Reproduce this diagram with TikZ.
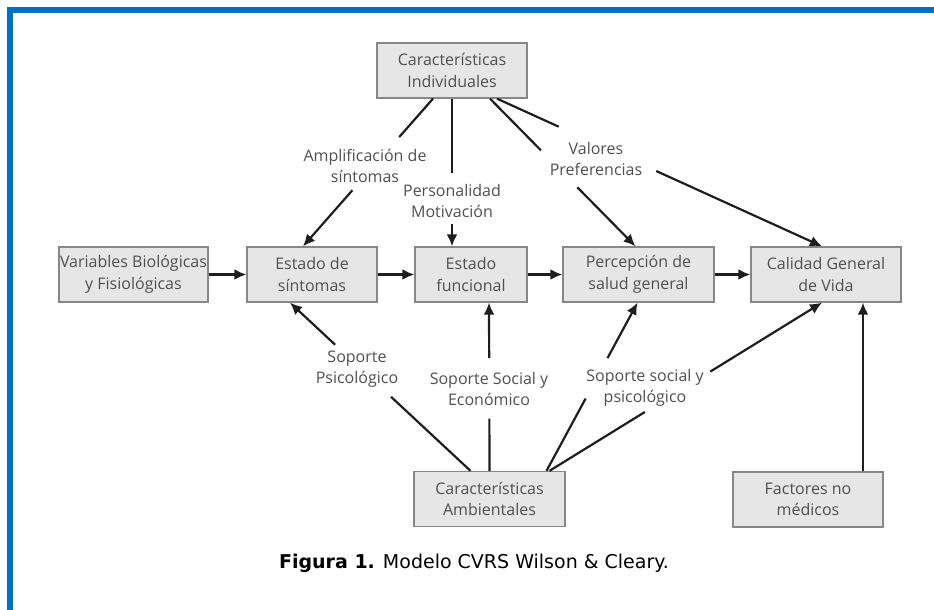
\documentclass[tikz,border=0pt]{standalone}
\usepackage{fontspec}
\setmainfont{Open Sans}
\newfontfamily\captionfont{DejaVu Sans}
\usetikzlibrary{arrows.meta,calc}

\definecolor{marco}{RGB}{0,112,192}
\definecolor{cajagris}{RGB}{230,230,230}
\definecolor{bordegris}{RGB}{135,135,135}
\definecolor{textogris}{RGB}{80,80,80}
\definecolor{linea}{RGB}{30,30,30}

\tikzset{
	box/.style={draw=bordegris, line width=1.3pt, fill=cajagris, text=textogris, align=center,
		minimum height=55pt, inner sep=0pt, font=\fontsize{16}{21.5}\selectfont},
	lbl/.style={text=textogris, align=center, inner sep=0pt, font=\fontsize{16}{21.5}\selectfont},
	conn/.style={line width=2.2pt, draw=linea},
	arr/.style={conn, -{Latex[length=12pt,width=11pt]}}
}

\begin{document}
\begin{tikzpicture}[x=1pt, y=-1pt]
		
		\useasboundingbox (0, 0) rectangle (934, 610);
		\fill [marco] (7, 7) rectangle (934, 13);
		\fill [marco] (7, 7) rectangle (13, 610);
		
		% cajas
		\node [box, minimum width=150pt] (indiv) at (452, 70.5) {Características\\Individuales};
		\node [box, minimum width=149pt] (vars) at (133.5, 274.5) {Variables Biológicas\\y Fisiológicas};
		\node [box, minimum width=130pt] (sint) at (312, 274.5) {Estado de\\síntomas};
		\node [box, minimum width=112pt] (func) at (471, 274.5) {Estado\\funcional};
		\node [box, minimum width=151pt] (perc) at (638.5, 274.5) {Percepción de\\salud general};
		\node [box, minimum width=150pt] (cal) at (826, 274.5) {Calidad General\\de Vida};
		\node [box, minimum width=151pt] (amb) at (489.5, 499) {Características\\Ambientales};
		\node [box, minimum width=150pt] (fact) at (808, 499.5) {Factores no\\médicos};
		
		% etiquetas
		\node [lbl] (ampl) at (365, 166) {Amplificación de\\síntomas};
		\node [lbl] (pers) at (452, 201) {Personalidad\\Motivación};
		\node [lbl] (valo) at (596, 159) {Valores\\Preferencias};
		\node [lbl] (spsi) at (357, 369) {Soporte\\Psicológico};
		\node [lbl] (ssoc) at (489, 389) {Soporte Social y\\Económico};
		\node [lbl] (ssps) at (645, 388) {Soporte social y\\psicológico};
		
		\node [font=\captionfont\fontsize{19}{22}\selectfont] (pie) at (474, 563) {\textbf{Figura 1.} Modelo CVRS Wilson \& Cleary.};
		
		% cadena principal
		\draw [arr] (vars) -- (sint);
		\draw [arr] (sint) -- (func);
		\draw [arr] (func) -- (perc);
		\draw [arr] (perc) -- (cal);
		\draw [arr] (fact.north -| 863, 0) -- (cal.south -| 863, 0);
		
		% desde caracteristicas individuales
		\coordinate (a1) at ([xshift=-19pt]indiv.south);
		\coordinate (b1) at ([xshift=-9pt]sint.north);
		\coordinate (a2) at (indiv.south);
		\coordinate (b2) at ([xshift=-19pt]func.north);
		\coordinate (a3) at ([xshift=38pt]indiv.south);
		\coordinate (b3) at ([xshift=-3pt]perc.north);
		\coordinate (a4) at ([xshift=45pt]indiv.south);
		\coordinate (b4) at ([xshift=-4pt]cal.north);
		\draw [conn] (a1) -- ($(a1)!0.26!(b1)$);
		\draw [arr] ($(a1)!0.62!(b1)$) -- (b1);
		\draw [conn] (a2) -- ($(a2)!0.50!(b2)$);
		\draw [arr] ($(a2)!0.85!(b2)$) -- (b2);
		\draw [conn] (a3) -- ($(a3)!0.35!(b3)$);
		\draw [arr] ($(a3)!0.60!(b3)$) -- (b3);
		\draw [conn] (a4) -- ($(a4)!0.19!(b4)$);
		\draw [arr] ($(a4)!0.49!(b4)$) -- (b4);
		
		% desde caracteristicas ambientales
		\coordinate (c1) at ([xshift=-19pt]amb.north);
		\coordinate (d1) at ([xshift=-22pt]sint.south);
		\coordinate (c2) at (amb.north);
		\coordinate (d2) at ([xshift=18pt]func.south);
		\coordinate (c3) at ([xshift=57pt]amb.north);
		\coordinate (d3) at ([xshift=-1pt]perc.south);
		\coordinate (c4) at ([xshift=60pt]amb.north);
		\coordinate (d4) at ([xshift=-4pt]cal.south);
		\draw [conn] (c1) -- ($(c1)!0.44!(d1)$);
		\draw [arr] ($(c1)!0.75!(d1)$) -- (d1);
		\draw [conn] (c2) -- ($(c2)!0.31!(d2)$);
		\draw [arr] ($(c2)!0.67!(d2)$) -- (d2);
		\draw [conn] (c3) -- ($(c3)!0.43!(d3)$);
		\draw [arr] ($(c3)!0.67!(d3)$) -- (d3);
		\draw [conn] (c4) -- ($(c4)!0.35!(d4)$);
		\draw [arr] ($(c4)!0.59!(d4)$) -- (d4);
		
\end{tikzpicture}
\end{document}
